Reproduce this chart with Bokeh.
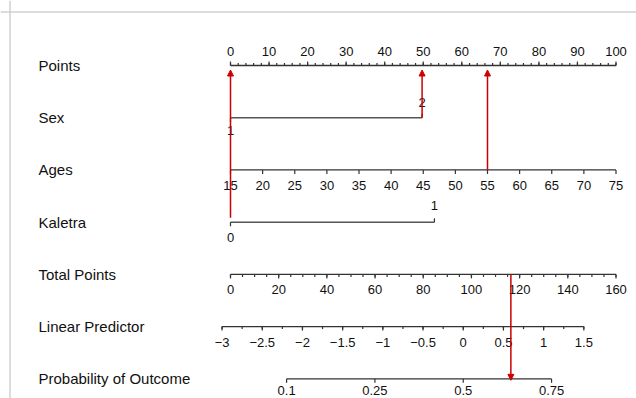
import numpy as np
from bokeh.plotting import figure
from bokeh.models import Range1d, ColumnDataSource, Arrow, NormalHead, Span
from bokeh.core.properties import value
from bokeh.embed import file_html
from bokeh.resources import INLINE

# ---------------- data ----------------
row_names = ["Points", "Sex", "Ages", "Kaletra", "Total Points",
             "Linear Predictor", "Probability of Outcome"]

points_major = list(range(0, 101, 10))
points_minor = list(range(0, 101, 2))

sex_levels = ["1", "2"]
sex_points = [0.0, 49.7]

age_ticks = list(range(15, 76, 5))
age_min, age_max = 15, 75          # spans 0..100 points

kaletra_levels = ["0", "1"]
kaletra_points = [0.0, 52.9]

total_major = list(range(0, 161, 20))
total_minor = list(range(0, 161, 5))
total_max = 160                    # total points axis 0..160

lp_major = [-3, -2.5, -2, -1.5, -1, -0.5, 0, 0.5, 1, 1.5]
lp_major_labels = ["\u22123", "\u22122.5", "\u22122", "\u22121.5", "\u22121",
                   "\u22120.5", "0", "0.5", "1", "1.5"]
lp_minor = [-3 + 0.25 * i for i in range(19)]
lp_intercept = -2.895              # linear predictor at 0 total points
lp_slope = 0.02997                 # linear predictor per total point

prob_ticks = [0.1, 0.25, 0.5, 0.75]
prob_labels = ["0.1", "0.25", "0.5", "0.75"]

patient_sex = "2"
patient_age = 55
patient_kaletra = "0"

# ---------------- scales ----------------
def age_x(a):
    return (np.asarray(a, float) - age_min) / (age_max - age_min) * 100.0

def total_x(t):
    return np.asarray(t, float) / total_max * 100.0

def lp_x(l):
    return total_x((np.asarray(l, float) - lp_intercept) / lp_slope)

def prob_x(pr):
    pr = np.asarray(pr, float)
    return lp_x(np.log(pr / (1 - pr)))

# ---------------- layout constants ----------------
W, H = 636, 398
OFF = 0                  # page offset of the canvas
PX_PER_POINT = 3.855     # screen px per point
X0_PAGE = 230            # page x of 0 points
ROW0_PAGE = 65           # page y of first row
ROW_PX = 52.22           # px between rows

x_start = (OFF - X0_PAGE) / PX_PER_POINT
x_end = (OFF + W - X0_PAGE) / PX_PER_POINT
y_top = (OFF - ROW0_PAGE) / ROW_PX
y_bot = (OFF + H - ROW0_PAGE) / ROW_PX

p = figure(width=W, height=H, output_backend="svg", toolbar_location=None,
           x_range=Range1d(x_start, x_end), y_range=Range1d(y_bot, y_top),
           min_border=0, min_border_left=0, min_border_right=0,
           min_border_top=0, min_border_bottom=0)
p.axis.visible = False
p.grid.visible = False
p.outline_line_color = None
p.background_fill_color = "white"
p.border_fill_color = "white"

FONT = value("Liberation Sans")
AX_COL = "#333333"
TXT_COL = "#111111"
TICK_FS = "13px"
MAJ = 4.0 / ROW_PX
MIN = 2.5 / ROW_PX

# border of the original screenshot
p.add_layout(Span(location=(11.5 - ROW0_PAGE) / ROW_PX, dimension="width",
                  line_color="#d0d0d0", line_width=1.5))
p.add_layout(Span(location=(9.5 - X0_PAGE) / PX_PER_POINT, dimension="height",
                  line_color="#d0d0d0", line_width=1.5))

def hline(row, x0, x1, color=AX_COL, width=1.3):
    p.segment(x0=[x0], y0=[row], x1=[x1], y1=[row], line_color=color, line_width=width)

def ticks(xs, row, length, direction):
    xs = list(np.asarray(xs, float))
    p.segment(x0=xs, y0=[row] * len(xs), x1=xs, y1=[row + direction * length] * len(xs),
              line_color=AX_COL, line_width=1.2)

def labels(xs, row, texts, yoff):
    xs = list(np.asarray(xs, float))
    p.text(x=xs, y=[row] * len(xs), text=texts, y_offset=yoff,
           text_align="center", text_baseline="middle", text_font=FONT,
           text_font_size=TICK_FS, text_color=TXT_COL)

# row names
name_x = (38 - X0_PAGE) / PX_PER_POINT
p.text(x=[name_x] * len(row_names), y=list(range(len(row_names))), text=row_names,
       text_align="left", text_baseline="middle", text_font=FONT,
       text_font_size="15px", text_color=TXT_COL)

# Points (row 0)
hline(0, points_major[0], points_major[-1])
ticks(points_minor, 0, MIN, -1)
ticks(points_major, 0, MAJ, -1)
labels(points_major, 0, [str(v) for v in points_major], -14)

# Sex (row 1)
hline(1, sex_points[0], sex_points[-1], color="#555555", width=1.5)
ticks([sex_points[0]], 1, MAJ, 1)
ticks([sex_points[1]], 1, MAJ, -1)
labels([sex_points[0]], 1, [sex_levels[0]], 13)
labels([sex_points[1]], 1, [sex_levels[1]], -15)

# Ages (row 2)
hline(2, age_x(age_min), age_x(age_max))
ticks(age_x(age_ticks), 2, MAJ, 1)
labels(age_x(age_ticks), 2, [str(a) for a in age_ticks], 16)

# Kaletra (row 3)
hline(3, kaletra_points[0], kaletra_points[-1], color="#555555", width=1.5)
ticks([kaletra_points[0]], 3, MAJ, 1)
ticks([kaletra_points[1]], 3, MAJ, -1)
labels([kaletra_points[0]], 3, [kaletra_levels[0]], 15)
labels([kaletra_points[1]], 3, [kaletra_levels[1]], -17)

# Total points (row 4)
hline(4, total_x(0), total_x(total_max))
ticks(total_x(total_minor), 4, MIN, 1)
ticks(total_x(total_major), 4, MAJ, 1)
labels(total_x(total_major), 4, [str(v) for v in total_major], 15)

# Linear predictor (row 5)
hline(5, float(lp_x(lp_major[0])), float(lp_x(lp_major[-1])))
ticks(lp_x(lp_minor), 5, MIN, 1)
ticks(lp_x(lp_major), 5, MAJ, 1)
labels(lp_x(lp_major), 5, lp_major_labels, 16)

# Probability (row 6)
hline(6, float(prob_x(prob_ticks[0])), float(prob_x(prob_ticks[-1])))
ticks(prob_x(prob_ticks), 6, MAJ, 1)
labels(prob_x(prob_ticks), 6, prob_labels, 12)

# ---------------- red arrows for the example patient ----------------
sx = sex_points[sex_levels.index(patient_sex)]
ax = float(age_x(patient_age))
kx = kaletra_points[kaletra_levels.index(patient_kaletra)]
tot = sx + ax + kx                      # total points
tx = float(total_x(tot))

RED = "#cc0000"
tip = 4.5 / ROW_PX
arrows = ColumnDataSource(dict(
    x_start=[kx, sx, ax, tx],
    y_start=[3 - 4.5 / ROW_PX, 1, 2, 4],
    x_end=[kx, sx, ax, tx],
    y_end=[0 + tip, 0 + tip, 0 + tip, 6 + 1.5 / ROW_PX],
))
p.add_layout(Arrow(source=arrows, x_start="x_start", y_start="y_start",
                   x_end="x_end", y_end="y_end", line_color=RED, line_width=1.5,
                   end=NormalHead(size=6, fill_color=RED, line_color=RED, line_width=1)))

open("out.html", "w").write(file_html(p, INLINE))
